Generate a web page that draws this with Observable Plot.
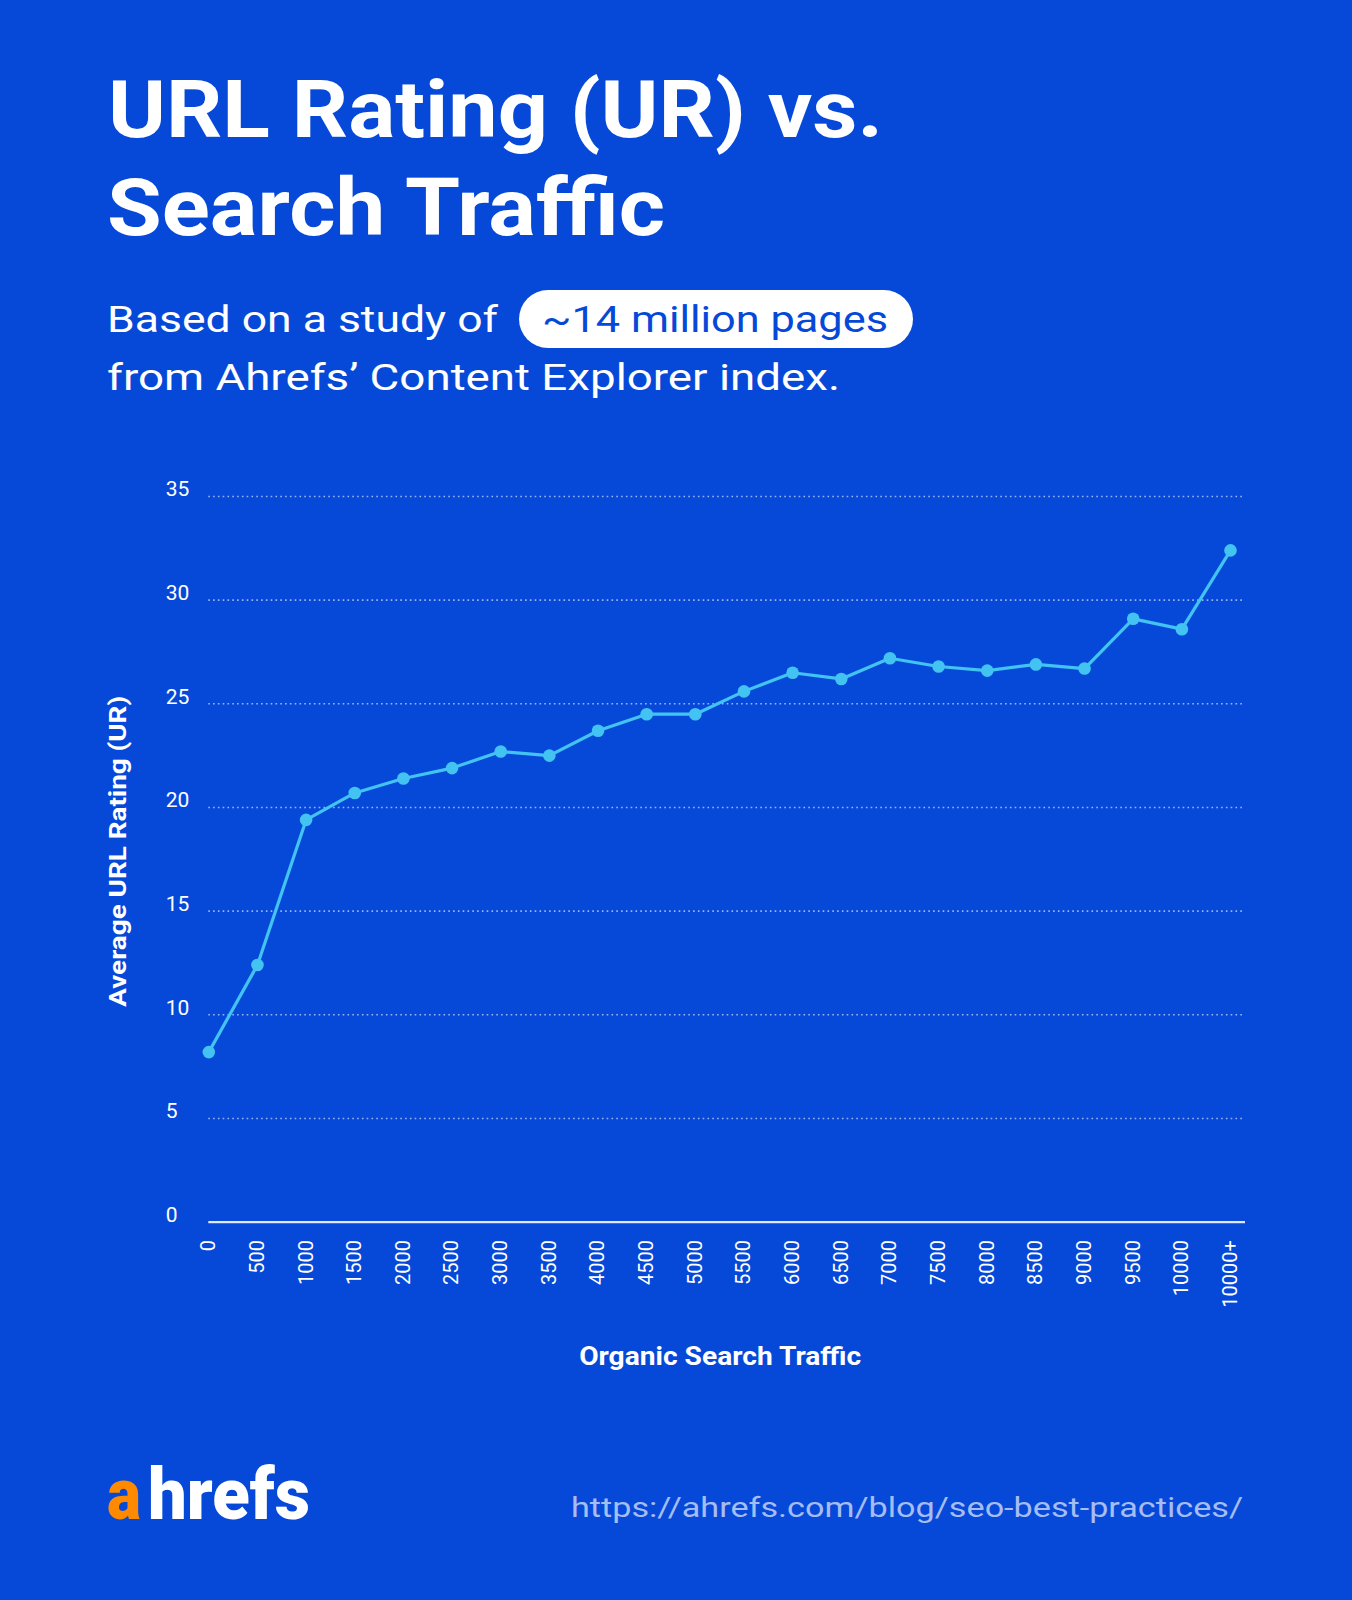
<!DOCTYPE html>
<html>
<head>
<meta charset="utf-8">
<script src="https://cdn.jsdelivr.net/npm/d3@7"></script>
<script src="https://cdn.jsdelivr.net/npm/@observablehq/plot@0.6"></script>
<style>
  html, body { margin: 0; padding: 0; background: #0649d9; }
  #page { position: relative; width: 1352px; height: 1600px; background: #0649d9; overflow: hidden; font-family: Roboto, "Noto Sans", sans-serif; }
  #page > svg { position: absolute; left: 0; }
</style>
</head>
<body>
<div id="page"></div>
<script>
// ---- data ----
const trafficLabels = ["0","500","1000","1500","2000","2500","3000","3500","4000","4500","5000",
  "5500","6000","6500","7000","7500","8000","8500","9000","9500","10000","10000+"];
const avgUR = [8.2, 12.4, 19.4, 20.7, 21.4, 21.9, 22.7, 22.5, 23.7, 24.5, 24.5,
  25.6, 26.5, 26.2, 27.2, 26.8, 26.6, 26.9, 26.7, 29.1, 28.6, 32.4];
const yTicks = [0, 5, 10, 15, 20, 25, 30, 35];

const titleLines = ["URL Rating (UR) vs.", "Search Traffic"];
const subtitleStart = "Based on a study of";
const subtitleHighlight = "~14 million pages";
const subtitleEnd = "from Ahrefs\u2019 Content Explorer index.";
const xTitle = "Organic Search Traffic";
const yTitle = "Average URL Rating (UR)";
const sourceUrl = "https://ahrefs.com/blog/seo-best-practices/";

const data = trafficLabels.map((t, i) => ({traffic: t, ur: avgUR[i]}));

const BG = "#0649d9";
const LINE = "#42c3f1";
const page = document.getElementById("page");
const NS = "http://www.w3.org/2000/svg";

function svgEl(tag, attrs, parent) {
  const e = document.createElementNS(NS, tag);
  for (const k in attrs) e.setAttribute(k, attrs[k]);
  if (parent) parent.appendChild(e);
  return e;
}
function txt(parent, s, attrs) {
  const t = svgEl("text", attrs, parent);
  t.textContent = s;
  return t;
}

// ---- header ----
const head = svgEl("svg", {width: 1352, height: 440, style: "top:0"}, page);
const font = "Roboto, 'Noto Sans', sans-serif";
txt(head, titleLines[0], {x: 108, y: 137, "font-family": font, "font-weight": 700, "font-size": 79, fill: "#fff", textLength: 775, lengthAdjust: "spacingAndGlyphs"});
txt(head, titleLines[1], {x: 107, y: 235, "font-family": font, "font-weight": 700, "font-size": 79, fill: "#fff", textLength: 558, lengthAdjust: "spacingAndGlyphs"});
txt(head, subtitleStart, {x: 107, y: 332, "font-family": font, "font-weight": 400, "font-size": 37, fill: "#fff", textLength: 391, lengthAdjust: "spacingAndGlyphs"});
svgEl("rect", {x: 519, y: 290, width: 394, height: 58, rx: 29, ry: 29, fill: "#fff"}, head);
txt(head, subtitleHighlight, {x: 542, y: 332, "font-family": font, "font-weight": 400, "font-size": 37, fill: BG, textLength: 346, lengthAdjust: "spacingAndGlyphs"});
txt(head, subtitleEnd, {x: 107, y: 390, "font-family": font, "font-weight": 400, "font-size": 37, fill: "#fff", textLength: 733, lengthAdjust: "spacingAndGlyphs"});

// ---- chart ----
const chart = Plot.plot({
  width: 1352,
  height: 960,
  marginTop: 56,
  marginBottom: 178.4,
  marginLeft: 208.3,
  marginRight: 107,
  style: {background: "transparent", color: "#fff", fontFamily: font, overflow: "visible"},
  x: {type: "point", domain: trafficLabels, range: [208.3, 1230], padding: 0, round: false, label: null},
  y: {domain: [0, 35], label: null},
  marks: [
    Plot.ruleY(yTicks.filter(d => d > 0), {stroke: "#ffffff", strokeOpacity: 0.6, strokeWidth: 1.6, strokeDasharray: "1.6,3.2"}),
    Plot.ruleY([0], {stroke: "#dfe8ff", strokeWidth: 2.2}),
    Plot.axisY(yTicks, {tickSize: 0, tickPadding: 43, textAnchor: "start", dy: -7, fontSize: 21, fill: "#fff", label: null}),
    Plot.axisX({tickSize: 0, tickPadding: 18, tickRotate: -90, fontSize: 20, fill: "#fff", label: null}),
    Plot.line(data, {x: "traffic", y: "ur", stroke: LINE, strokeWidth: 3.2}),
    Plot.dot(data, {x: "traffic", y: "ur", r: 6.3, fill: LINE}),
    Plot.text([yTitle], {frameAnchor: "left", textAnchor: "middle", lineAnchor: "middle", dx: -90, dy: -8, rotate: -90, fontSize: 24, fontWeight: 700, fill: "#fff"}),
    Plot.text([xTitle], {frameAnchor: "bottom", textAnchor: "middle", lineAnchor: "middle", dx: -7, dy: 135, fontSize: 25, fontWeight: 700, fill: "#fff"})
  ]
});
chart.style.position = "absolute";
chart.style.top = "440px";
chart.style.left = "0px";
// stretch axis titles to the widths they have in the reference
chart.querySelectorAll("text").forEach(t => {
  if (t.textContent === yTitle) { t.setAttribute("textLength", 311); t.setAttribute("lengthAdjust", "spacingAndGlyphs"); }
  if (t.textContent === xTitle) { t.setAttribute("textLength", 282); t.setAttribute("lengthAdjust", "spacingAndGlyphs"); }
});
page.appendChild(chart);

// ---- footer ----
const foot = svgEl("svg", {width: 1352, height: 200, style: "top:1400px"}, page);
txt(foot, "a", {x: 107, y: 119, "font-family": font, "font-weight": 900, "font-size": 72, fill: "#ff8a00", textLength: 34, lengthAdjust: "spacingAndGlyphs"});
txt(foot, "hrefs", {x: 148, y: 119, "font-family": font, "font-weight": 900, "font-size": 72, fill: "#fff", textLength: 162, lengthAdjust: "spacingAndGlyphs"});
txt(foot, sourceUrl, {x: 1243, y: 117, "text-anchor": "end", "font-family": font, "font-weight": 400, "font-size": 28, fill: "#a6bdf2", textLength: 672, lengthAdjust: "spacingAndGlyphs"});
</script>
</body>
</html>
